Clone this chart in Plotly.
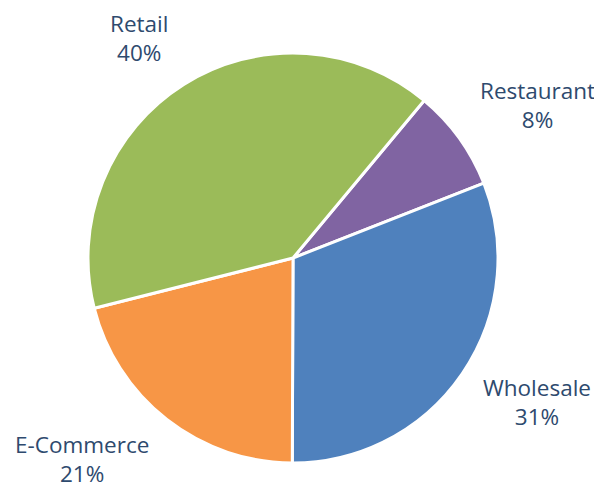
import math
import plotly.graph_objects as go

categories = ["Restaurant", "Wholesale", "E-Commerce", "Retail"]
values = [8, 31, 21, 40]
colors = ["#8064A2", "#4F81BD", "#F79646", "#9BBB59"]

W, H = 602, 488
cx, cy, r = 285, 250, 205      # domain placement (pixels)
rotation = 39.8
label_font = dict(family="Open Sans", size=22.5, color="#2E4A6E")

fig = go.Figure(go.Pie(
    labels=categories,
    values=values,
    sort=False,
    direction="clockwise",
    rotation=rotation,
    marker=dict(colors=colors, line=dict(color="white", width=3)),
    textinfo="none",
    showlegend=False,
    hoverinfo="label+percent",
    domain=dict(x=[(cx - r) / W, (cx + r) / W], y=[1 - (cy + r) / H, 1 - (cy - r) / H]),
))

# outside labels placed along each slice's mid-angle, beyond the pie edge
pcx, pcy = 293, 257            # rendered pie centre in pixels
label_rx, label_ry = 230, 258
total = sum(values)
start = rotation
for cat, val in zip(categories, values):
    span = 360 * val / total
    mid = math.radians(start + span / 2)
    start += span
    s, c = math.sin(mid), math.cos(mid)
    px = pcx + label_rx * s
    py = pcy - label_ry * c
    fig.add_annotation(
        x=px / W, y=1 - py / H, xref="paper", yref="paper",
        text=f"{cat}<br>{round(100 * val / total)}%",
        showarrow=False,
        xanchor="left" if s > 0 else "right",
        yanchor="middle",
        xshift=-9,
        yshift=9,
        align="center",
        font=label_font,
        borderpad=0,
    )

fig.update_layout(
    width=W, height=H,
    margin=dict(l=0, r=0, t=0, b=0),
    paper_bgcolor="white",
    plot_bgcolor="white",
)

fig.write_html("out.html")
